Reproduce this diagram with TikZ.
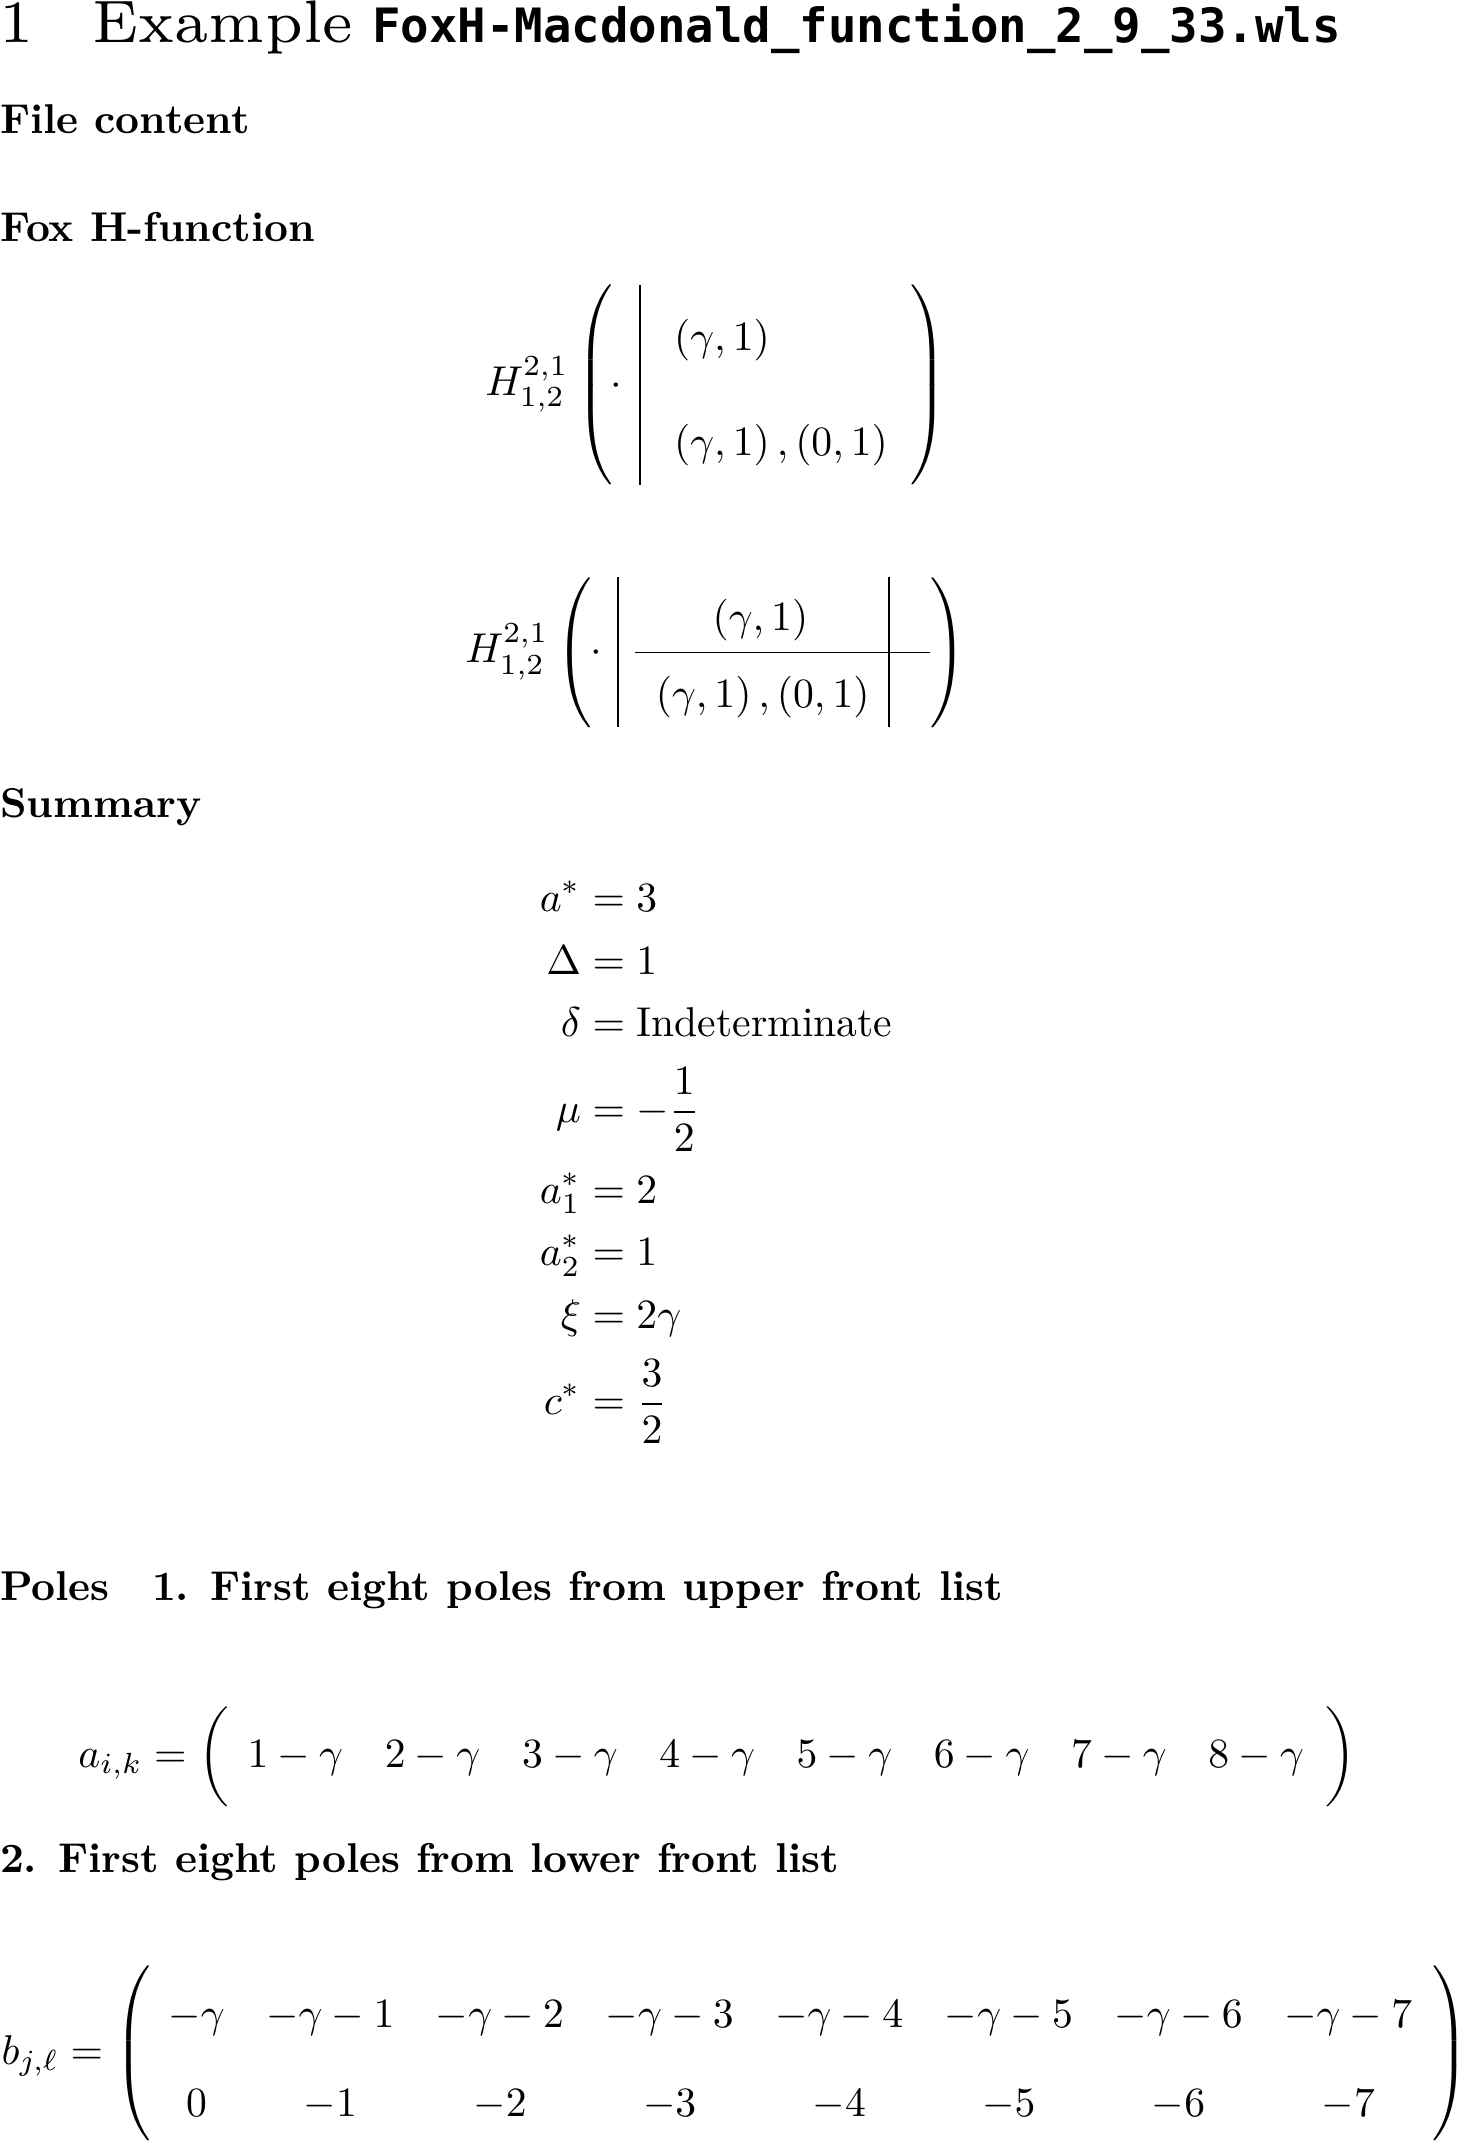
\documentclass[tikz,border=0pt]{standalone}
\usepackage{amsmath}
\usepackage{graphicx}
\usepackage{fontspec}
\newfontfamily\fnmono{DejaVu Sans Mono}
\newcommand\mydelim[2]{$\delimiterfactor=1000 \delimitershortfall=0pt \nulldelimiterspace=0pt \left#1\vrule height \dimexpr#2+2.5pt\relax depth \dimexpr#2-2.5pt\relax width 0pt\right.$}
\newcommand\dm[1]{$\displaystyle #1$}
\newcommand\headtxt[1]{\scalebox{2.05714}{\fontsize{7}{8}\selectfont #1}}
\tikzset{
  txt/.style={inner sep=0pt, outer sep=0pt, anchor=base west},
  hd/.style={txt, font=\bfseries},
  dl/.style={inner sep=0pt, outer sep=0pt, anchor=center},
  rl/.style={line width=0.4pt}
}
\begin{document}
\begin{tikzpicture}[x=0.2401pt,y=-0.2401pt]
\useasboundingbox (0,0) rectangle (1466,2145);
% header
\node[txt] (secnum) at (0,43) {\headtxt{1}};
\node[txt] (sect) at (92.8,43) {\headtxt{Example}};
\node[txt,font=\fontsize{11.36}{14}\selectfont\fnmono\bfseries] (fname) at (372.3,43) {FoxH-Macdonald\_function\_2\_9\_33.wls};
% paragraph heads
\node[hd] (fc) at (0,133.4) {File content};
\node[hd] (fh) at (0,242) {Fox H-function};
% first H
\node[txt] (h1) at (485.3,395.4) {\dm{H^{2,1}_{1,2}}};
\node[dl] (h1l) at (594.6,385) {\mydelim{(}{23.75pt}};
\node[txt,anchor=base] (h1d) at (616,395.4) {$\cdot$};
\draw[rl] (640,285) -- (640,485);
\node[txt] (h1t) at (674.2,350.5) {$\left(\gamma,1\right)$};
\node[txt] (h1b) at (674.2,455.5) {$\left(\gamma,1\right),\left(0,1\right)$};
\node[dl] (h1r) at (928.7,385) {\mydelim{)}{23.75pt}};
% second H
\node[txt] (h2) at (465.3,663) {\dm{H^{2,1}_{1,2}}};
\node[dl] (h2l) at (573.8,652.5) {\mydelim{(}{17.75pt}};
\node[txt,anchor=base] (h2d) at (596,663) {$\cdot$};
\draw[rl] (618.3,577.5) -- (618.3,727.5);
\draw[rl] (889,577.5) -- (889,727.5);
\draw[rl] (635,652.5) -- (930,652.5);
\node[txt] (h2t) at (712.6,630.6) {$\left(\gamma,1\right)$};
\node[txt] (h2b) at (655.9,707.3) {$\left(\gamma,1\right),\left(0,1\right)$};
\node[dl] (h2r) at (948.7,652.5) {\mydelim{)}{17.75pt}};
% summary
\node[hd] (sm) at (0,818) {Summary};
\node[txt,anchor=base east] (l1) at (581,911.5) {\dm{a^*}};
\node[txt] (r1) at (581,911.5) {\dm{{}=3}};
\node[txt,anchor=base east] (l2) at (581,974) {\dm{\Delta}};
\node[txt] (r2) at (581,974) {\dm{{}=1}};
\node[txt,anchor=base east] (l3) at (581,1036.5) {\dm{\delta}};
\node[txt] (r3) at (581,1036.5) {\dm{{}=\text{Indeterminate}}};
\node[txt,anchor=base east] (l4) at (581,1122.7) {\dm{\mu}};
\node[txt] (r4) at (581,1122.7) {\dm{{}=-\frac{1}{2}}};
\node[txt,anchor=base east] (l5) at (581,1203.3) {\dm{a^*_1}};
\node[txt] (r5) at (581,1203.3) {\dm{{}=2}};
\node[txt,anchor=base east] (l6) at (581,1265.8) {\dm{a^*_2}};
\node[txt] (r6) at (581,1265.8) {\dm{{}=1}};
\node[txt,anchor=base east] (l7) at (581,1328.2) {\dm{\xi}};
\node[txt] (r7) at (581,1328.2) {\dm{{}=2\gamma}};
\node[txt,anchor=base east] (l8) at (581,1414.5) {\dm{c^*}};
\node[txt] (r8) at (581,1414.5) {\dm{{}=\frac{3}{2}}};
% poles
\node[hd] (po) at (0,1600) {Poles};
\node[hd] (p1) at (152,1600) {1. First eight poles from upper front list};
\node[txt] (ail) at (78.4,1767) {\dm{a_{i,k} =}};
\node[dl] (apl) at (214,1757) {\mydelim{(}{11.75pt}};
\node[txt] (aent) at (247.5,1767) {$\begin{array}[t]{@{}cccccccc@{}}1-\gamma & 2-\gamma & 3-\gamma & 4-\gamma & 5-\gamma & 6-\gamma & 7-\gamma & 8-\gamma\end{array}$};
\node[dl] (apr) at (1341,1757) {\mydelim{)}{11.75pt}};
\node[hd] (p2) at (0,1872) {2. First eight poles from lower front list};
\node[txt] (bjl) at (1.5,2064) {\dm{b_{j,\ell} =}};
\node[dl] (bpl) at (132.8,2053.5) {\mydelim{(}{20.75pt}};
\node[txt] (bent) at (168.4,2027) {\renewcommand\arraystretch{1.8}$\begin{array}[t]{@{}cccccccc@{}}-\gamma & -\gamma-1 & -\gamma-2 & -\gamma-3 & -\gamma-4 & -\gamma-5 & -\gamma-6 & -\gamma-7\\ 0 & -1 & -2 & -3 & -4 & -5 & -6 & -7\end{array}$};
\node[dl] (bpr) at (1450.5,2053.5) {\mydelim{)}{20.75pt}};
\end{tikzpicture}
\end{document}
